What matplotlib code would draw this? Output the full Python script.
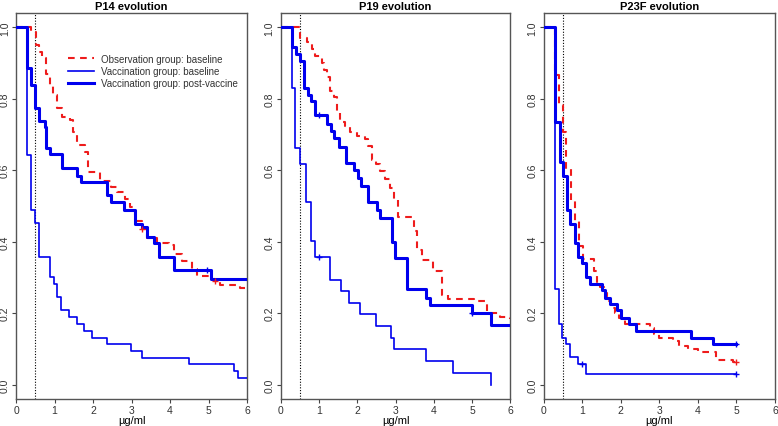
import numpy as np
import matplotlib.pyplot as plt

plt.rcParams['font.family'] = ['Liberation Sans', 'DejaVu Sans']

# P14
p14_obs_x = [0, 0.38, 0.52, 0.6, 0.67, 0.78, 0.88, 0.97, 1.07, 1.19, 1.39, 1.49, 1.59, 1.79, 1.88, 2.18,
             2.47, 2.61, 2.83, 2.96, 3.09, 3.13, 3.26, 3.39, 3.65, 3.96, 4.09, 4.30, 4.56, 4.69, 5.04,
             5.17, 5.30, 5.69, 5.82, 6.0]
p14_obs_y = [1.0, 0.988, 0.95, 0.93, 0.913, 0.87, 0.838, 0.81, 0.773, 0.75, 0.74, 0.707, 0.67, 0.65,
             0.595, 0.57, 0.553, 0.54, 0.52, 0.497, 0.474, 0.458, 0.435, 0.411, 0.397, 0.39, 0.365,
             0.346, 0.323, 0.304, 0.295, 0.29, 0.28, 0.278, 0.272, 0.267]
p14_base_x = [0, 0.29, 0.39, 0.48, 0.50, 0.59, 0.88, 0.99, 1.07, 1.18, 1.38, 1.58, 1.77, 1.97, 2.37,
              2.98, 3.28, 4.48, 5.67, 5.76, 6.0]
p14_base_y = [1.0, 0.642, 0.49, 0.472, 0.453, 0.358, 0.302, 0.283, 0.245, 0.208, 0.189, 0.170, 0.151,
              0.132, 0.113, 0.094, 0.075, 0.057, 0.038, 0.019, 0.019]
p14_post_x = [0, 0.29, 0.39, 0.48, 0.60, 0.74, 0.78, 0.88, 1.19, 1.59, 1.69, 2.37, 2.47, 2.81, 3.08,
              3.26, 3.39, 3.59, 3.70, 4.09, 5.06, 6.0]
p14_post_y = [1.0, 0.887, 0.838, 0.775, 0.737, 0.72, 0.662, 0.645, 0.605, 0.585, 0.567, 0.53, 0.51,
              0.49, 0.451, 0.44, 0.414, 0.397, 0.357, 0.32, 0.295, 0.295]

# P19
p19_obs_x = [0, 0.49, 0.68, 0.81, 0.90, 1.03, 1.07, 1.12, 1.20, 1.29, 1.38, 1.48, 1.55, 1.68, 1.80,
             1.99, 2.21, 2.27, 2.38, 2.49, 2.60, 2.73, 2.86, 2.95, 3.05, 3.47, 3.56, 3.69, 3.99, 4.21,
             4.38, 5.04, 5.39, 5.72, 6.0]
p19_obs_y = [1.0, 0.97, 0.96, 0.94, 0.92, 0.915, 0.90, 0.88, 0.86, 0.823, 0.805, 0.76, 0.735, 0.725,
             0.706, 0.695, 0.688, 0.668, 0.63, 0.617, 0.598, 0.575, 0.55, 0.518, 0.47, 0.43, 0.378,
             0.35, 0.318, 0.25, 0.241, 0.234, 0.2, 0.19, 0.185]
p19_base_x = [0, 0.29, 0.37, 0.51, 0.65, 0.78, 0.88, 1.29, 1.58, 1.79, 2.07, 2.48, 2.89, 2.97, 3.79,
              4.50, 5.50]
p19_base_y = [1.0, 0.831, 0.661, 0.617, 0.511, 0.402, 0.357, 0.293, 0.262, 0.228, 0.197, 0.165, 0.132,
              0.0995, 0.067, 0.034, 0.0]
p19_post_x = [0, 0.29, 0.39, 0.51, 0.61, 0.72, 0.79, 0.90, 1.20, 1.31, 1.39, 1.51, 1.71, 1.90, 2.01,
              2.10, 2.29, 2.51, 2.60, 2.90, 2.99, 3.30, 3.79, 3.91, 5.0, 5.50, 6.0]
p19_post_y = [1.0, 0.945, 0.925, 0.905, 0.83, 0.81, 0.793, 0.755, 0.73, 0.71, 0.69, 0.665, 0.62, 0.60,
              0.578, 0.555, 0.51, 0.49, 0.467, 0.399, 0.355, 0.267, 0.244, 0.222, 0.2, 0.167, 0.167]

# P23F
p23_obs_x = [0, 0.30, 0.39, 0.49, 0.58, 0.70, 0.80, 0.91, 1.01, 1.30, 1.39, 1.45, 1.55, 1.65, 1.75,
             1.85, 1.95, 2.10, 2.75, 2.85, 3.00, 3.35, 3.50, 3.75, 4.00, 4.47, 4.90, 4.99]
p23_obs_y = [1.0, 0.866, 0.783, 0.706, 0.603, 0.518, 0.458, 0.388, 0.353, 0.318, 0.28, 0.274, 0.258,
             0.234, 0.216, 0.202, 0.188, 0.171, 0.158, 0.143, 0.132, 0.121, 0.109, 0.101, 0.092, 0.07,
             0.064, 0.064]
p23_base_x = [0, 0.30, 0.39, 0.48, 0.58, 0.69, 0.88, 1.10, 4.99]
p23_base_y = [1.0, 0.267, 0.171, 0.132, 0.113, 0.078, 0.058, 0.03, 0.03]
p23_post_x = [0, 0.30, 0.41, 0.50, 0.61, 0.69, 0.80, 0.90, 1.0, 1.10, 1.21, 1.51, 1.60, 1.71, 1.90,
              2.0, 2.20, 2.40, 3.81, 4.40, 4.99]
p23_post_y = [1.0, 0.735, 0.623, 0.584, 0.49, 0.451, 0.397, 0.357, 0.34, 0.301, 0.283, 0.265, 0.244,
              0.225, 0.208, 0.188, 0.169, 0.151, 0.132, 0.113, 0.113]

# censored marks (x, y)
p14_cens_post = ([4.97], [0.32])
p14_cens_obs = ([3.27, 5.17], [0.435, 0.29])
p19_cens_base = ([0.99], [0.357])
p19_cens_post = ([0.99, 5.0], [0.755, 0.2])
p23_cens_base = ([1.0, 4.99], [0.058, 0.03])
p23_cens_post = ([4.99], [0.113])
p23_cens_obs = ([4.99], [0.064])

titles = ['P14 evolution', 'P19 evolution', 'P23F evolution']
legend_labels = ['Observation group: baseline', 'Vaccination group: baseline',
                 'Vaccination group: post-vaccine']

panels = [
    (p14_obs_x, p14_obs_y, p14_base_x, p14_base_y, p14_post_x, p14_post_y,
     None, p14_cens_post, p14_cens_obs),
    (p19_obs_x, p19_obs_y, p19_base_x, p19_base_y, p19_post_x, p19_post_y,
     p19_cens_base, p19_cens_post, None),
    (p23_obs_x, p23_obs_y, p23_base_x, p23_base_y, p23_post_x, p23_post_y,
     p23_cens_base, p23_cens_post, p23_cens_obs),
]

red = '#ee1c1c'
blue = '#0000ee'
lefts = [0.0206, 0.361, 0.699]
widths = [0.297, 0.295, 0.297]

fig = plt.figure(figsize=(7.78, 4.27), dpi=100)
for i, p in enumerate(panels):
    ox, oy, bx, by, px, py, cb, cp, co = p
    ax = fig.add_axes([lefts[i], 0.0632, widths[i], 0.904])
    l1, = ax.step(ox, oy, where='post', color=red, lw=1.5, dashes=(3.2, 2.6), zorder=2)
    l2, = ax.step(bx, by, where='post', color=blue, lw=1.2, zorder=3)
    l3, = ax.step(px, py, where='post', color=blue, lw=2.2, zorder=4)
    for c, col in ((cb, blue), (cp, blue), (co, red)):
        if c is not None:
            ax.plot(c[0], c[1], ls='none', marker='+', ms=5, mew=1, color=col, zorder=5)
    ax.axvline(0.5, color='black', lw=0.8, ls=(0, (1, 1.5)), zorder=1)
    ax.set_xlim(0, 6)
    ax.set_ylim(-0.04, 1.04)
    ax.set_xticks(range(7))
    ax.set_yticks([0.0, 0.2, 0.4, 0.6, 0.8, 1.0])
    ax.set_yticklabels(['0.0', '0.2', '0.4', '0.6', '0.8', '1.0'], rotation=90, va='center')
    ax.tick_params(labelsize=7.5, length=3, width=0.8, pad=1.5, colors='#444444',
                   labelcolor='#333333')
    for s in ax.spines.values():
        s.set_color('#555555')
        s.set_linewidth(1.0)
    ax.set_title(titles[i], fontsize=8, fontweight='bold', pad=3)
    ax.set_xlabel('µg/ml', fontsize=8, labelpad=0)
    if i == 0:
        leg = ax.legend([l1, l2, l3], legend_labels, frameon=False, fontsize=7,
                        loc='upper left', bbox_to_anchor=(0.21, 0.905), handlelength=2.6,
                        handletextpad=0.8, labelspacing=0.25, borderaxespad=0)
        for t in leg.get_texts():
            t.set_color('#333333')

fig.savefig('out.png', dpi=100)
